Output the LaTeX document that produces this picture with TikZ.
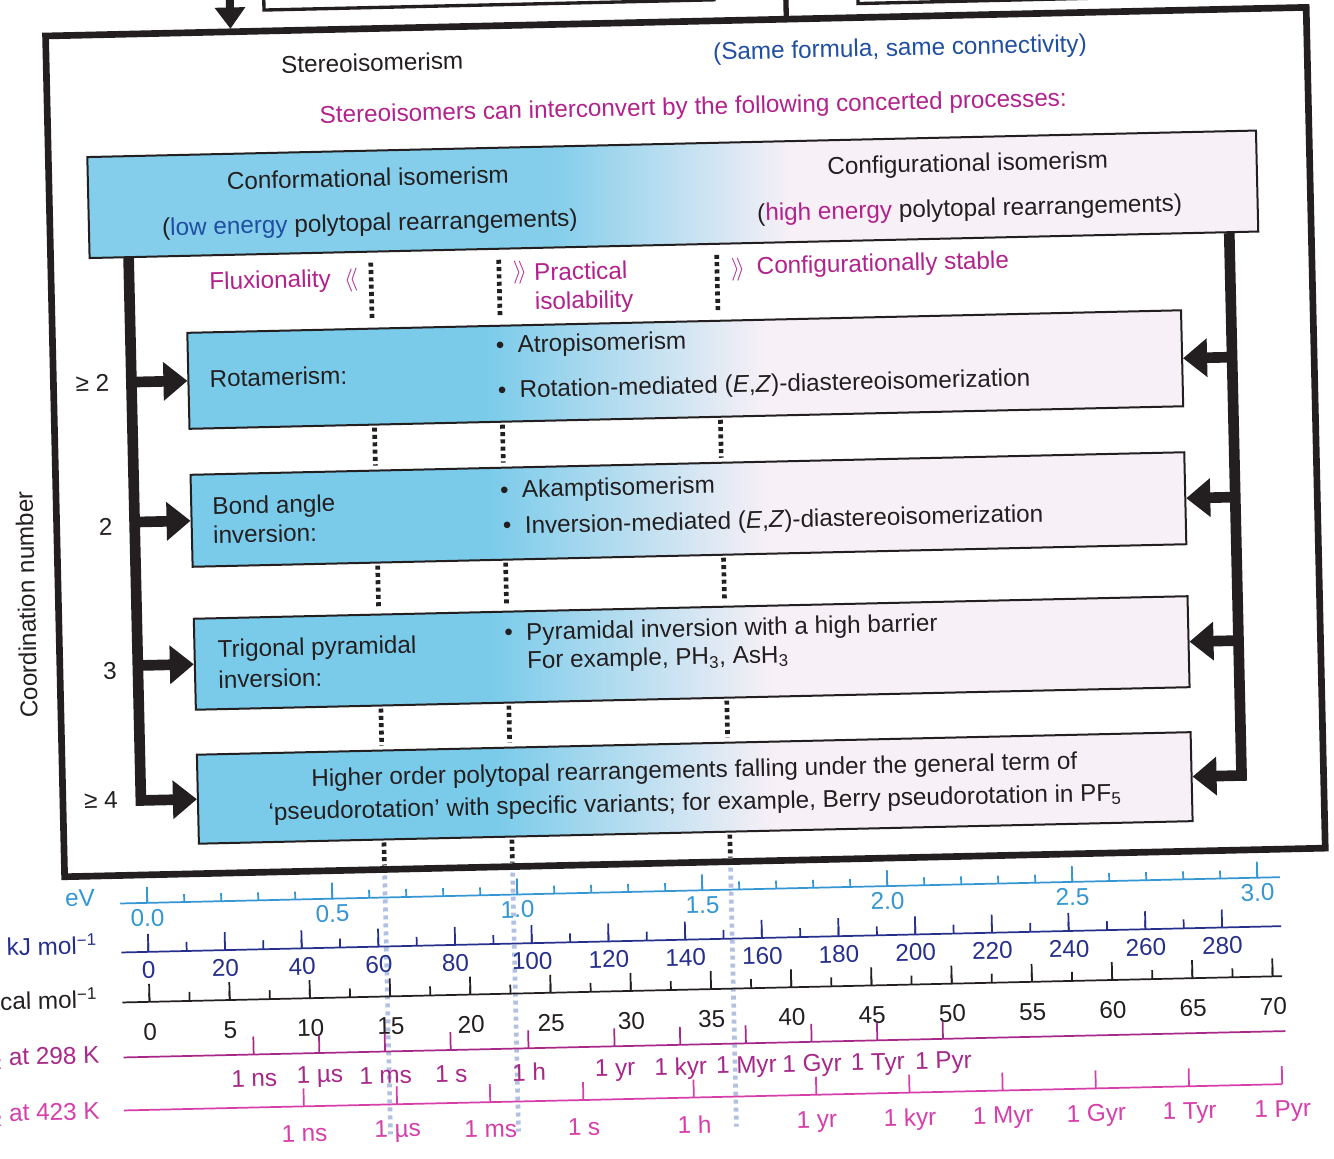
\documentclass[tikz,border=0pt]{standalone}
\usepackage{fontspec}
\setmainfont{Liberation Sans}
\usetikzlibrary{arrows.meta}
\definecolor{txt}{RGB}{35,31,32}
\definecolor{mag}{RGB}{178,34,140}
\definecolor{blu}{RGB}{32,78,160}
\definecolor{evc}{RGB}{52,150,210}
\definecolor{kjc}{RGB}{38,48,140}
\definecolor{tA}{RGB}{168,40,138}
\definecolor{tB}{RGB}{214,62,170}
\definecolor{dotb}{RGB}{178,192,226}
\definecolor{boxblue}{RGB}{122,203,234}
\definecolor{headblue}{RGB}{132,206,235}
\definecolor{boxpink}{RGB}{247,240,246}
\pgfdeclarehorizontalshading{boxshade}{100bp}{color(0bp)=(boxblue); color(25bp)=(boxblue); color(40bp)=(boxblue); color(54bp)=(boxpink); color(100bp)=(boxpink)}
\pgfdeclarehorizontalshading{headshade}{100bp}{color(0bp)=(headblue); color(25bp)=(headblue); color(45bp)=(headblue); color(55bp)=(boxpink); color(100bp)=(boxpink)}
\newcommand\fsz[1]{\fontsize{18.2}{#1}\selectfont}
\tikzset{
 every node/.style={inner sep=0pt, text=txt, font=\fsz{22}},
 frame/.style={draw=txt, line width=5pt},
 box/.style={draw=txt, line width=1.5pt, shade, shading=boxshade, shading angle=0},
 hbox/.style={draw=txt, line width=1.5pt, shade, shading=headshade, shading angle=0},
 bar/.style={draw=txt, line width=8pt, line join=miter},
 arr/.style={bar, -{Triangle[width=28pt,length=18pt]}},
 dotline/.style={draw=txt, line width=3.5pt, dash pattern=on 3pt off 2.5pt},
 dotlb/.style={draw=dotb, line width=3.5pt, dash pattern=on 3pt off 3pt},
 axl/.style={line width=1.3pt},
}
\begin{document}
\begin{tikzpicture}[x=0.75pt,y=-0.75pt]
\useasboundingbox[fill=white] (0,0) rectangle (1334,1158);
\begin{scope}[rotate around={1.3:(667,579)}, transform shape]
% ---- top partial elements
\coordinate (topA) at (243,-40);
\coordinate (topB) at (243,19);
\draw[draw=txt, line width=6pt, -{Triangle[width=22pt,length=16pt]}] (topA) -- (topB);
\draw[txt, line width=2.5pt] (277,-40) -- (277,1) -- (727,1) -- (727,-40);
\draw[txt, line width=4pt] (799,-40) -- (799,22);
\draw[txt, line width=2.5pt] (871,-40) -- (871,8) -- (1250,8);
% ---- frame
\draw[frame] (58,22) rectangle (1319,863);
% ---- title texts
\node (st) at (384,56) {Stereoisomerism};
\node[text=blu] (sf) at (912,55) {(Same formula, same connectivity)};
\node[text=mag] (sc) at (704,109) {Stereoisomers can interconvert by the following concerted processes:};
% ---- header
\node[hbox, minimum width={1169*0.75pt}, minimum height={101*0.75pt}] (head) at (681.5,194.5) {};
\node (h1) at (377,171) {Conformational isomerism};
\node (h2) at (378,218) {(\textcolor{blu}{low energy} polytopal rearrangements)};
\node (h3) at (977,172) {Configurational isomerism};
\node (h4) at (978,217) {(\textcolor{mag}{high energy} polytopal rearrangements)};
% ---- boxes
\node[box, minimum width={994*0.75pt}, minimum height={96*0.75pt}] (rot) at (690,370) {};
\node[box, minimum width={994*0.75pt}, minimum height={92*0.75pt}] (bond) at (690,510) {};
\node[box, minimum width={994*0.75pt}, minimum height={91*0.75pt}] (trig) at (690,653.5) {};
\node[box, minimum width={994*0.75pt}, minimum height={89*0.75pt}] (high) at (690,788.5) {};
% ---- bars and arrows
\coordinate (LB) at (136,0);
\coordinate (RB) at (1237,0);
\draw[arr] (head.south -| LB) |- (high.west);
\draw[arr] (rot.west -| LB) -- (rot.west);
\draw[arr] (bond.west -| LB) -- (bond.west);
\draw[arr] (trig.west -| LB) -- (trig.west);
\draw[arr] (head.south -| RB) |- (high.east);
\draw[arr] (rot.east -| RB) -- (rot.east);
\draw[arr] (bond.east -| RB) -- (bond.east);
\draw[arr] (trig.east -| RB) -- (trig.east);
% ---- dotted lines
\foreach \x in {378,506,724}{
  \draw[dotline] (\x,256) -- (\x,314);
  \draw[dotline] (\x,421) -- (\x,459);
  \draw[dotline] (\x,559) -- (\x,602);
  \draw[dotline] (\x,702) -- (\x,739);
  \draw[dotline] (\x,836) -- (\x,859);
  \draw[dotlb] (\x,869) -- (\x,1128);
}
% ---- gap labels
\node[text=mag] (fl) at (277,273) {Fluxionality};
\node[text=mag] (fa) at (358,273) {$\langle\!\langle$};
\node[text=mag] (pa) at (527,269) {$\rangle\!\rangle$};
\node[text=mag, anchor=west, align=left, font=\fsz{21.75}] (pi) at (541,286) {Practical\\isolability};
\node[text=mag] (ca) at (745,271) {$\rangle\!\rangle$};
\node[text=mag] (cs) at (890,270) {Configurationally stable};
% ---- box texts
\node[anchor=west] (r1) at (214,368) {Rotamerism:};
\node[anchor=west] (r2) at (501,343) {\textbullet\hspace{0.55em}Atropisomerism};
\node[anchor=west] (r3) at (502,388) {\textbullet\hspace{0.55em}Rotation-mediated (\textit{E},\textit{Z})-diastereoisomerization};
\node[anchor=west, align=left, font=\fsz{21.75}] (b1) at (214,510) {Bond angle\\inversion:};
\node[anchor=west] (b2) at (502,488) {\textbullet\hspace{0.55em}Akamptisomerism};
\node[anchor=west] (b3) at (504,524) {\textbullet\hspace{0.55em}Inversion-mediated (\textit{E},\textit{Z})-diastereoisomerization};
\node[anchor=west, align=left, font=\fsz{23.25}] (t1) at (216,654) {Trigonal pyramidal\\inversion:};
\node[anchor=west] (t2) at (503,631) {\textbullet\hspace{0.55em}Pyramidal inversion with a high barrier};
\node[anchor=west] (t3) at (525,659) {For example, PH\textsubscript{3}, AsH\textsubscript{3}};
\node[align=center, font=\fsz{24.4}] (p1) at (high.center) {Higher order polytopal rearrangements falling under the general term of\\‘pseudorotation’ with specific variants; for example, Berry pseudorotation in PF\textsubscript{5}};
% ---- side labels
\node (c1) at (97,370) {≥ 2};
\node (c2) at (107,514) {2};
\node (c3) at (108,658) {3};
\node (c4) at (96,787) {≥ 4};
\node[rotate=90] (cn) at (26,590) {Coordination number};
% ---- eV axis
\draw[evc, axl] (113,891) -- (1273,891);
\foreach \i in {0,...,30}{\draw[evc, axl] ({140+37.01*\i},891) -- ++(0,-8);}
\foreach \i/\l in {0/0.0,1/0.5,2/1.0,3/1.5,4/2.0,5/2.5,6/3.0}{
  \draw[evc, axl] ({140+185.05*\i},891) -- ++(0,-16);
  \node[text=evc] (ev\i) at ({140+185.05*\i},906) {\l};
}
\node[text=evc] (evl) at (73,885) {eV};
% ---- kJ axis
\draw[kjc, axl] (113,940) -- (1273,940);
\foreach \i in {0,...,28}{\draw[kjc, axl] ({140+38.36*\i},940) -- ++(0,-9);}
\foreach \i in {0,...,14}{
  \pgfmathtruncatemacro\l{20*\i}
  \draw[kjc, axl] ({140+76.72*\i},940) -- ++(0,-18);
  \node[text=kjc] (kj\i) at ({140+76.72*\i},958) {\l};
}
\node[text=kjc, anchor=east] (kjl) at (89,931) {kJ mol\textsuperscript{−1}};
% ---- kcal axis
\draw[txt, axl] (113,990) -- (1273,990);
\foreach \i in {0,...,28}{\draw[txt, axl] ({140+40.125*\i},990) -- ++(0,-9);}
\foreach \i in {0,...,14}{
  \pgfmathtruncatemacro\l{5*\i}
  \draw[txt, axl] ({140+80.25*\i},990) -- ++(0,-18);
  \node (kc\i) at ({140+80.25*\i},1020) {\l};
}
\node[anchor=east] (kcl) at (88,985) {kcal mol\textsuperscript{−1}};
% ---- 298 K axis
\draw[tA, axl] (113,1045) -- (1275,1045);
\foreach \x/\l [count=\c] in {243/1 ns,308.7/1 µs,374.4/1 ms,440.1/1 s,517.9/1 h,604/1 yr,669.7/1 kyr,735.4/1 Myr,801.1/1 Gyr,866.8/1 Tyr,932.5/1 Pyr}{
  \draw[tA, axl] (\x,1045) -- ++(0,-18);
  \node[text=tA] (ta\c) at (\x,1069) {\l};
}
\node[text=tA, anchor=east] (tal) at (89,1044) {t\textsubscript{1/2} at 298 K};
% ---- 423 K axis
\draw[tB, axl] (112,1098) -- (1270.6,1098);
\foreach \x/\l [count=\c] in {292/1 ns,385.2/1 µs,478.4/1 ms,571.6/1 s,682.1/1 h,804.6/1 yr,897.8/1 kyr,991/1 Myr,1084.2/1 Gyr,1177.4/1 Tyr,1270.6/1 Pyr}{
  \draw[tB, axl] (\x,1098) -- ++(0,-18);
  \node[text=tB] (tb\c) at (\x,1125) {\l};
}
\node[text=tB, anchor=east] (tbl) at (88,1100) {t\textsubscript{1/2} at 423 K};
\end{scope}
\end{tikzpicture}
\end{document}
